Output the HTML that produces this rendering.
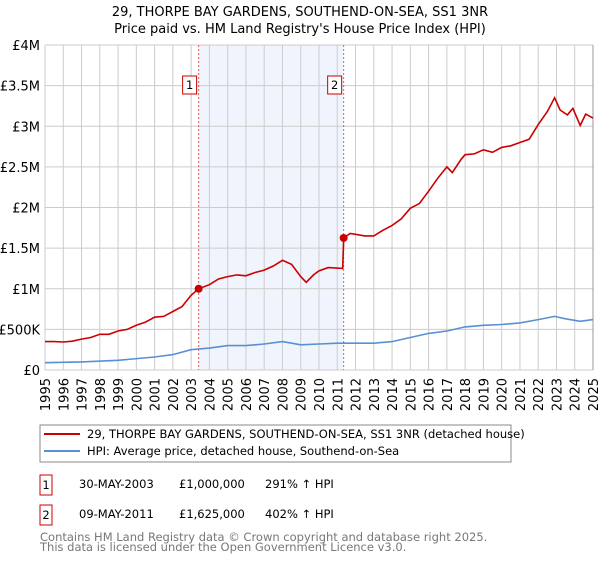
<!DOCTYPE html>
<html><head><meta charset="utf-8"><style>
body{margin:0;background:#fff;font-family:"DejaVu Sans","Liberation Sans",sans-serif;}
svg text{font-family:"DejaVu Sans","Liberation Sans",sans-serif;}
</style></head><body>
<svg id="c" width="600" height="560" xmlns="http://www.w3.org/2000/svg">
<text x="300" y="16" text-anchor="middle" font-size="13">29, THORPE BAY GARDENS, SOUTHEND-ON-SEA, SS1 3NR</text>
<text x="300" y="33" text-anchor="middle" font-size="13">Price paid vs. HM Land Registry's House Price Index (HPI)</text>
<g id="plot"></g>
<rect x="40" y="425" width="471" height="37" fill="#fff" stroke="#888"/>
<line x1="44" y1="434" x2="80" y2="434" stroke="#cc0000" stroke-width="2"/>
<text x="87" y="438" font-size="11.5">29, THORPE BAY GARDENS, SOUTHEND-ON-SEA, SS1 3NR (detached house)</text>
<line x1="44" y1="451" x2="80" y2="451" stroke="#5b8fd4" stroke-width="2"/>
<text x="87" y="455" font-size="11.5">HPI: Average price, detached house, Southend-on-Sea</text>
<rect x="40" y="475" width="12" height="20" fill="none" stroke="#cc0000"/>
<text x="46" y="489" text-anchor="middle" font-size="11.5">1</text>
<text x="79" y="488" font-size="11.5">30-MAY-2003</text>
<text x="179" y="488" font-size="11.5">£1,000,000</text>
<text x="265" y="488" font-size="11.5">291% ↑ HPI</text>
<rect x="40" y="505" width="12" height="20" fill="none" stroke="#cc0000"/>
<text x="46" y="519" text-anchor="middle" font-size="11.5">2</text>
<text x="79" y="518" font-size="11.5">09-MAY-2011</text>
<text x="179" y="518" font-size="11.5">£1,625,000</text>
<text x="265" y="518" font-size="11.5">402% ↑ HPI</text>
<text x="40" y="541" font-size="11.5" fill="#777">Contains HM Land Registry data © Crown copyright and database right 2025.</text>
<text x="40" y="551" font-size="11.5" fill="#777">This data is licensed under the Open Government Licence v3.0.</text>
</svg>
<script>
const yTicks=[0,0.5,1,1.5,2,2.5,3,3.5,4];
const yTickLabels=["£0","£500K","£1M","£1.5M","£2M","£2.5M","£3M","£3.5M","£4M"];
const xYears=[1995,1996,1997,1998,1999,2000,2001,2002,2003,2004,2005,2006,2007,2008,2009,2010,2011,2012,2013,2014,2015,2016,2017,2018,2019,2020,2021,2022,2023,2024,2025];
const propT=[1995,1995.5,1996,1996.5,1997,1997.5,1998,1998.5,1999,1999.5,2000,2000.5,2001,2001.5,2002,2002.5,2003,2003.41,2004,2004.5,2005,2005.5,2006,2006.5,2007,2007.5,2008,2008.5,2009,2009.3,2009.7,2010,2010.5,2011.3,2011.35,2011.7,2012,2012.5,2013,2013.5,2014,2014.5,2015,2015.5,2016,2016.5,2017,2017.3,2017.8,2018,2018.5,2019,2019.5,2020,2020.5,2021,2021.5,2022,2022.5,2022.9,2023.2,2023.6,2023.9,2024.3,2024.6,2025];
const propV=[0.35,0.35,0.345,0.355,0.38,0.4,0.44,0.44,0.48,0.5,0.55,0.59,0.65,0.66,0.72,0.78,0.92,1.0,1.05,1.12,1.15,1.17,1.16,1.2,1.23,1.28,1.35,1.3,1.15,1.08,1.17,1.22,1.26,1.25,1.625,1.68,1.67,1.65,1.65,1.72,1.78,1.86,1.99,2.05,2.2,2.36,2.5,2.43,2.6,2.65,2.66,2.71,2.68,2.74,2.76,2.8,2.84,3.02,3.18,3.35,3.2,3.14,3.22,3.01,3.15,3.1];
const hpiT=[1995,1997,1999,2001,2002,2003,2004,2005,2006,2007,2008,2009,2010,2011,2013,2014,2015,2016,2017,2018,2019,2020,2021,2022,2022.9,2023.5,2024.3,2025];
const hpiV=[0.09,0.1,0.12,0.16,0.19,0.25,0.27,0.3,0.3,0.32,0.35,0.31,0.32,0.33,0.33,0.35,0.4,0.45,0.48,0.53,0.55,0.56,0.58,0.62,0.66,0.63,0.6,0.62];
const saleT=[2003.41,2011.35];
const saleV=[1.0,1.625];
const saleLabels=["1","2"];

const L=45,R=593,T=45,B=370,NS="http://www.w3.org/2000/svg";
const xs=t=>L+(t-1995)/30*(R-L);
const ys=v=>B-v/4*(B-T);
const g=document.getElementById('plot');
function mk(tag,a){const e=document.createElementNS(NS,tag);for(const k in a)e.setAttribute(k,a[k]);g.appendChild(e);return e;}
let sh=mk('rect',{x:xs(saleT[0]),y:T,width:xs(saleT[1])-xs(saleT[0]),height:B-T,fill:'#f0f4fc'});


yTicks.forEach((v,i)=>{
 const l=mk('line',{x1:L,x2:R,y1:ys(v),y2:ys(v),stroke:'#cccccc'});
 
 
 const t=mk('text',{x:L-5,y:ys(v)+5,'text-anchor':'end','font-size':'13'});
 t.textContent=yTickLabels[i];
 
 
});
xYears.forEach(y=>{
 const l=mk('line',{x1:xs(y),x2:xs(y),y1:T,y2:B,stroke:'#cccccc'});
 
 
 const t=mk('text',{x:0,y:0,'text-anchor':'end','font-size':'13',transform:`translate(${xs(y)+5},${B+8}) rotate(-90)`});
 t.textContent=y;
 
 
});
let rl=mk('line',{x1:R,x2:R,y1:T,y2:B,stroke:'#999'});


saleT.forEach((s,i)=>{
 const l=mk('line',{x1:xs(s),x2:xs(s),y1:T,y2:B,stroke:'#e06060','stroke-dasharray':'2,2'});
 
 
 const bx=mk('rect',{x:xs(s)-16,y:76,width:14,height:18,fill:'#fff',stroke:'#cc0000'});
 
 
 const t=mk('text',{x:xs(s)-9,y:89,'text-anchor':'middle','font-size':'11.5'});
 t.textContent=saleLabels[i];
 
 
});
const path=(T_,V)=>T_.map((t,i)=>(i?'L':'M')+xs(t).toFixed(1)+','+ys(V[i]).toFixed(1)).join('');
let hp=mk('path',{d:path(hpiT,hpiV),fill:'none',stroke:'#5b8fd4','stroke-width':'1.6'});


let pp=mk('path',{d:path(propT,propV),fill:'none',stroke:'#cc0000','stroke-width':'1.6'});


saleT.forEach((s,i)=>{
 const c=mk('circle',{cx:xs(s),cy:ys(saleV[i]),r:4,fill:'#cc0000'});
 
 
});
</script>
</body></html>
